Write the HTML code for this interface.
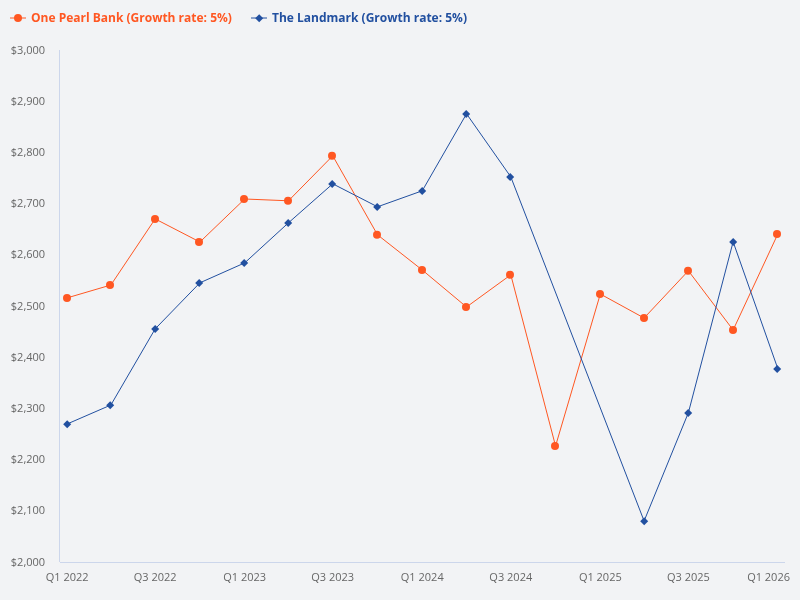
<!DOCTYPE html>
<html><head><meta charset="utf-8"><title>Chart</title>
<style>
html,body{margin:0;padding:0;background:#f2f3f5;}
svg{display:block;will-change:transform;}
.ax{font-family:"Open Sans","Liberation Sans",sans-serif;font-size:11px;fill:#666666;}
.lg{font-family:"Open Sans","Liberation Sans",sans-serif;font-size:12px;font-weight:700;}
</style></head><body>
<svg width="800" height="600" viewBox="0 0 800 600">
<rect x="0" y="0" width="800" height="600" fill="#f2f3f5"/>
<path d="M59.5 50 L59.5 562" stroke="#ccd6eb" stroke-width="1" fill="none"/>
<path d="M60 562.5 L785 562.5" stroke="#ccd6eb" stroke-width="1" fill="none"/>
<text x="45.1" y="54" text-anchor="end" class="ax">$3,000</text>
<text x="45.1" y="105" text-anchor="end" class="ax">$2,900</text>
<text x="45.1" y="156" text-anchor="end" class="ax">$2,800</text>
<text x="45.1" y="207" text-anchor="end" class="ax">$2,700</text>
<text x="45.1" y="258" text-anchor="end" class="ax">$2,600</text>
<text x="45.1" y="310" text-anchor="end" class="ax">$2,500</text>
<text x="45.1" y="361" text-anchor="end" class="ax">$2,400</text>
<text x="45.1" y="412" text-anchor="end" class="ax">$2,300</text>
<text x="45.1" y="463" text-anchor="end" class="ax">$2,200</text>
<text x="45.1" y="514" text-anchor="end" class="ax">$2,100</text>
<text x="45.1" y="566" text-anchor="end" class="ax">$2,000</text>
<text x="67.11" y="581" text-anchor="middle" class="ax">Q1 2022</text>
<text x="155.16" y="581" text-anchor="middle" class="ax">Q3 2022</text>
<text x="244.68" y="581" text-anchor="middle" class="ax">Q1 2023</text>
<text x="332.74" y="581" text-anchor="middle" class="ax">Q3 2023</text>
<text x="422.26" y="581" text-anchor="middle" class="ax">Q1 2024</text>
<text x="510.80" y="581" text-anchor="middle" class="ax">Q3 2024</text>
<text x="600.32" y="581" text-anchor="middle" class="ax">Q1 2025</text>
<text x="688.38" y="581" text-anchor="middle" class="ax">Q3 2025</text>
<text x="790" y="581" text-anchor="end" class="ax">Q1 2026</text>
<path d="M67.11 297.90 L110.89 285.00 L155.16 218.90 L199.92 242.00 L244.68 199.00 L288.47 200.80 L332.74 155.80 L377.50 234.80 L422.26 270.00 L466.53 307.00 L510.80 274.80 L555.56 446.00 L600.32 294.00 L644.10 318.00 L688.38 270.80 L733.13 330.00 L777.89 233.90" stroke="#ff5722" stroke-width="1" fill="none" stroke-linejoin="round" stroke-linecap="round"/>
<circle cx="67" cy="297.9" r="4" fill="#ff5722"/>
<circle cx="110" cy="285" r="4" fill="#ff5722"/>
<circle cx="155" cy="218.9" r="4" fill="#ff5722"/>
<circle cx="199" cy="242" r="4" fill="#ff5722"/>
<circle cx="244" cy="199" r="4" fill="#ff5722"/>
<circle cx="288" cy="200.8" r="4" fill="#ff5722"/>
<circle cx="332" cy="155.8" r="4" fill="#ff5722"/>
<circle cx="377" cy="234.8" r="4" fill="#ff5722"/>
<circle cx="422" cy="270" r="4" fill="#ff5722"/>
<circle cx="466" cy="307" r="4" fill="#ff5722"/>
<circle cx="510" cy="274.8" r="4" fill="#ff5722"/>
<circle cx="555" cy="446" r="4" fill="#ff5722"/>
<circle cx="600" cy="294" r="4" fill="#ff5722"/>
<circle cx="644" cy="318" r="4" fill="#ff5722"/>
<circle cx="688" cy="270.8" r="4" fill="#ff5722"/>
<circle cx="733" cy="330" r="4" fill="#ff5722"/>
<circle cx="777" cy="233.9" r="4" fill="#ff5722"/>
<path d="M67.11 424.00 L110.89 405.00 L155.16 328.90 L199.92 282.80 L244.68 262.90 L288.47 222.80 L332.74 183.80 L377.50 206.80 L422.26 190.80 L466.53 113.80 L510.80 176.90 L644.10 521.00 L688.38 412.70 L733.13 241.80 L777.89 368.90" stroke="#2250a0" stroke-width="1" fill="none" stroke-linejoin="round" stroke-linecap="round"/>
<path d="M67.2 420.2 L71.2 424.2 L67.2 428.2 L63.2 424.2 Z" fill="#2250a0"/>
<path d="M110.2 401.2 L114.2 405.2 L110.2 409.2 L106.2 405.2 Z" fill="#2250a0"/>
<path d="M155.2 325.1 L159.2 329.1 L155.2 333.1 L151.2 329.1 Z" fill="#2250a0"/>
<path d="M199.2 279.0 L203.2 283.0 L199.2 287.0 L195.2 283.0 Z" fill="#2250a0"/>
<path d="M244.2 259.1 L248.2 263.1 L244.2 267.1 L240.2 263.1 Z" fill="#2250a0"/>
<path d="M288.2 219.0 L292.2 223.0 L288.2 227.0 L284.2 223.0 Z" fill="#2250a0"/>
<path d="M332.2 180.0 L336.2 184.0 L332.2 188.0 L328.2 184.0 Z" fill="#2250a0"/>
<path d="M377.2 203.0 L381.2 207.0 L377.2 211.0 L373.2 207.0 Z" fill="#2250a0"/>
<path d="M422.2 187.0 L426.2 191.0 L422.2 195.0 L418.2 191.0 Z" fill="#2250a0"/>
<path d="M466.2 110.0 L470.2 114.0 L466.2 118.0 L462.2 114.0 Z" fill="#2250a0"/>
<path d="M510.2 173.1 L514.2 177.1 L510.2 181.1 L506.2 177.1 Z" fill="#2250a0"/>
<path d="M644.2 517.2 L648.2 521.2 L644.2 525.2 L640.2 521.2 Z" fill="#2250a0"/>
<path d="M688.2 408.9 L692.2 412.9 L688.2 416.9 L684.2 412.9 Z" fill="#2250a0"/>
<path d="M733.2 238.0 L737.2 242.0 L733.2 246.0 L729.2 242.0 Z" fill="#2250a0"/>
<path d="M777.2 365.1 L781.2 369.1 L777.2 373.1 L773.2 369.1 Z" fill="#2250a0"/>
<path d="M10 18 L26 18" stroke="#ff5722" stroke-width="1"/>
<circle cx="18" cy="18" r="4" fill="#ff5722"/>
<text x="31" y="21.7" class="lg" fill="#ff5722">One Pearl Bank (Growth rate: 5%)</text>
<path d="M251 18 L267 18" stroke="#2250a0" stroke-width="1"/>
<path d="M259.2 14.2 L263.2 18.2 L259.2 22.2 L255.2 18.2 Z" fill="#2250a0"/>
<text x="272" y="21.7" class="lg" fill="#2250a0">The Landmark (Growth rate: 5%)</text>
</svg>
</body></html>
